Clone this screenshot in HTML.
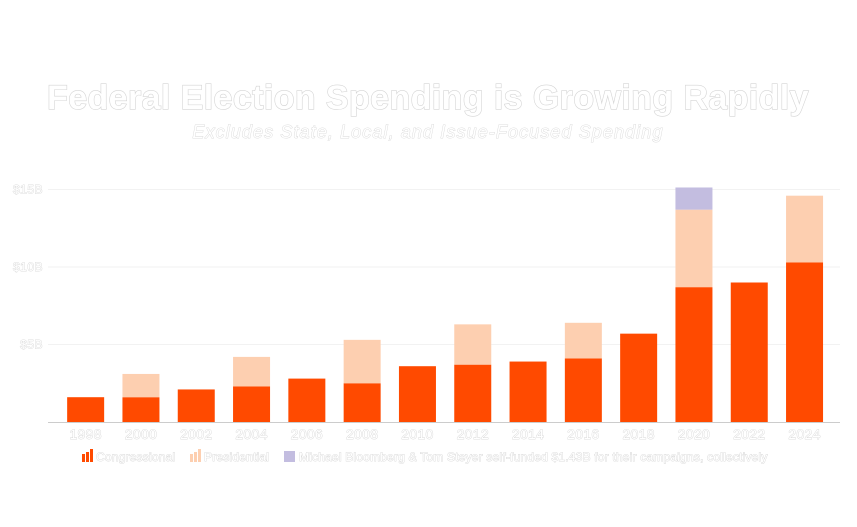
<!DOCTYPE html>
<html><head><meta charset="utf-8"><style>
body{margin:0;background:#fff;width:857px;height:522px;overflow:hidden;font-family:"Liberation Sans",sans-serif}
text{fill:#fff;stroke:#d4d4d4;stroke-width:0.8px;paint-order:stroke}
</style></head><body>
<svg id="c" width="857" height="522">
<text x="428" y="109" text-anchor="middle" font-size="34" font-weight="bold" letter-spacing="0.4" style="stroke-width:1.2px">Federal Election Spending is Growing Rapidly</text>
<text x="428" y="138" text-anchor="middle" font-size="18" font-style="italic" letter-spacing="1.1">Excludes State, Local, and Issue-Focused Spending</text>
<g id="grid"></g><g id="bars"></g><g id="xl"></g>
<g font-size="12">
<g><rect x="82" y="454" width="3" height="8" fill="#ff4a00"/><rect x="86" y="452" width="3" height="10" fill="#ff4a00"/><rect x="90" y="449" width="3" height="13" fill="#ff4a00"/><text x="96" y="461" letter-spacing="0.2">Congressional</text></g>
<g><rect x="190" y="454" width="3" height="8" fill="#fdcfb0"/><rect x="194" y="452" width="3" height="10" fill="#fdcfb0"/><rect x="198" y="449" width="3" height="13" fill="#fdcfb0"/><text x="204" y="461" letter-spacing="0.2">Presidential</text></g>
<g><rect x="284" y="451" width="11" height="11" fill="#c3bde0"/><text x="299" y="461" letter-spacing="0.2">Michael Bloomberg &amp; Tom Steyer self-funded $1.43B for their campaigns, collectively</text></g>
</g>
</svg>
<script>
const years=["1998","2000","2002","2004","2006","2008","2010","2012","2014","2016","2018","2020","2022","2024"];
const congressional=[1.6,1.6,2.1,2.3,2.8,2.5,3.6,3.7,3.9,4.1,5.7,8.7,9.0,10.3];
const presidential=[0,1.5,0,1.9,0,2.8,0,2.6,0,2.3,0,5.0,0,4.3];
const selfFunded=[0,0,0,0,0,0,0,0,0,0,0,1.43,0,0];
const ticks=[5,10,15];
const tickLabels=["$5B","$10B","$15B"];
const NS="http://www.w3.org/2000/svg";
const y0=422,pxPerB=15.5,x0=58,step=55.3,bw=37;
const y=v=>y0-v*pxPerB;
const xc=i=>x0+step*(i+0.5);
function el(t,a,p){const e=document.createElementNS(NS,t);for(const k in a)e.setAttribute(k,a[k]);document.getElementById(p).appendChild(e);return e;}
ticks.forEach((t,i)=>{
 const l=el('line',{x1:48,x2:840,y1:y(t),y2:y(t),stroke:'#f2f2f2'},'grid');
 
 
 const tx=el('text',{x:43,y:y(t)+4,'text-anchor':'end','font-size':12,'letter-spacing':0.5},'grid');tx.textContent=tickLabels[i];
 
 
});
const ax=el('line',{x1:48,x2:840,y1:y0+0.5,y2:y0+0.5,stroke:'#ccc'},'grid');


years.forEach((yr,i)=>{
 const x=xc(i)-bw/2;let b=0;
 [[congressional[i],'#ff4a00','bar-congressional'],[presidential[i],'#fdcfb0','bar-presidential'],[selfFunded[i],'#c3bde0','bar-self-funded']].forEach(([v,c,n])=>{
  if(v<=0)return;
  const r=el('rect',{x:x,y:y(b+v),width:bw,height:v*pxPerB,fill:c},'bars');
  
  
  b+=v;
 });
 const t=el('text',{x:xc(i),y:y0+17,'text-anchor':'middle','font-size':14,'letter-spacing':0.3},'xl');t.textContent=yr;
 
 
});
</script>
</body></html>
